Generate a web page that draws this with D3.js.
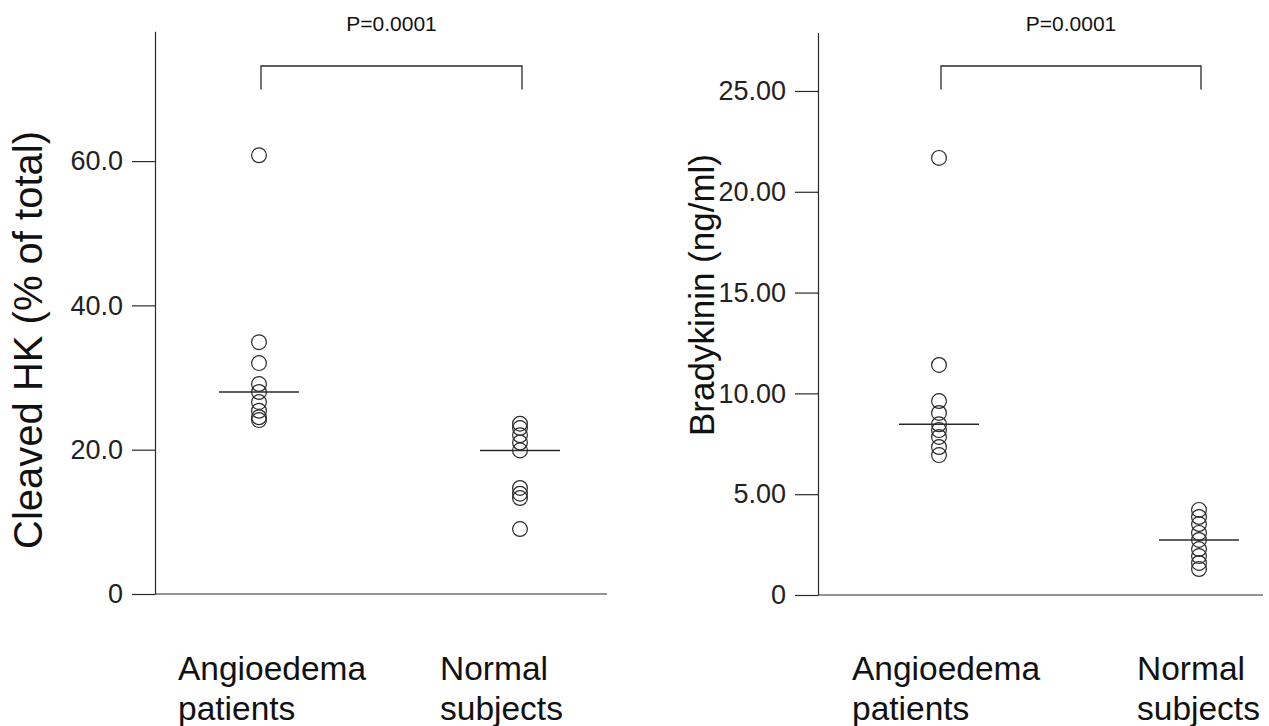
<!DOCTYPE html>
<html>
<head>
<meta charset="utf-8">
<script src="https://cdn.jsdelivr.net/npm/d3@7"></script>
<style>
  html, body { margin: 0; padding: 0; background: #fff; }
  svg { display: block; font-family: "Liberation Sans", Arial, sans-serif; }
</style>
</head>
<body>
<svg id="chart" width="1269" height="726"></svg>
<script>
// ---- data ----
const categories = ["Angioedema patients", "Normal subjects"];
const categoryLines = [["Angioedema", "patients"], ["Normal", "subjects"]];

const cleavedAngioedema = [60.8, 34.9, 32.0, 29.1, 28.0, 26.6, 25.4, 24.5, 24.1];
const cleavedNormal = [23.6, 23.0, 22.0, 21.0, 19.9, 14.7, 13.9, 13.3, 9.0];

const bradyAngioedema = [21.68, 11.41, 9.62, 9.03, 8.47, 8.18, 7.84, 7.34, 6.94];
const bradyNormal = [4.22, 3.87, 3.52, 3.08, 2.73, 2.28, 1.93, 1.59, 1.29];

const cleavedTicks = [0, 20, 40, 60];
const cleavedTickLabels = ["0", "20.0", "40.0", "60.0"];
const bradyTicks = [0, 5, 10, 15, 20, 25];
const bradyTickLabels = ["0", "5.00", "10.00", "15.00", "20.00", "25.00"];

const pLabels = ["P=0.0001", "P=0.0001"];
const yTitles = ["Cleaved HK (% of total)", "Bradykinin (ng/ml)"];

// ---- layout ----
const svg = d3.select("#chart");
const ink = "#2a2a2a";

const panels = [
  { series: [cleavedAngioedema, cleavedNormal], ticks: cleavedTicks, tickLabels: cleavedTickLabels,
    ymax: 78, axisX: 155, xEnd: 607, y0: 594, yTop: 31.2, cx: [259, 520],
    labelX: [178, 440], title: yTitles[0], titleX: 28, titleY: 340, titleSize: 40, p: pLabels[0] },
  { series: [bradyAngioedema, bradyNormal], ticks: bradyTicks, tickLabels: bradyTickLabels,
    ymax: 27.9, axisX: 818, xEnd: 1263, y0: 595, yTop: 32.5, cx: [939, 1199],
    labelX: [852, 1137], title: yTitles[1], titleX: 701, titleY: 295, titleSize: 35, p: pLabels[1] }
];

panels.forEach(P => {
  const g = svg.append("g");
  const y = d3.scaleLinear().domain([0, P.ymax]).range([P.y0, P.yTop]);
  const x = d3.scalePoint().domain(categories).range(P.cx);

  // y axis
  const yAxis = d3.axisLeft(y)
    .tickValues(P.ticks)
    .tickFormat((d, i) => P.tickLabels[i])
    .tickSize(23).tickSizeOuter(0).tickPadding(9);
  const ga = g.append("g").attr("transform", `translate(${P.axisX},0)`).call(yAxis);
  ga.select(".domain").attr("stroke", ink).attr("stroke-width", 1.2);
  ga.selectAll(".tick line").attr("stroke", ink).attr("stroke-width", 1.2);
  ga.selectAll(".tick text").attr("fill", "#222").style("font-size", "27px")
    .style("font-family", "'Liberation Sans', Arial, sans-serif");

  // x axis line
  const xAxisScale = d3.scaleLinear().range([P.axisX, P.xEnd]);
  g.append("line")
    .attr("x1", xAxisScale.range()[0]).attr("x2", xAxisScale.range()[1])
    .attr("y1", y(0)).attr("y2", y(0))
    .attr("stroke", ink).attr("stroke-width", 1.2);

  // y title
  g.append("text")
    .attr("transform", `translate(${P.titleX},${P.titleY}) rotate(-90)`)
    .attr("text-anchor", "middle")
    .attr("dominant-baseline", "central")
    .style("font-size", P.titleSize + "px")
    .attr("fill", "#111")
    .text(P.title);

  // points and medians
  categories.forEach((c, i) => {
    const vals = P.series[i];
    g.selectAll(null).data(vals).enter().append("circle")
      .attr("cx", x(c)).attr("cy", d => y(d)).attr("r", 7.4)
      .attr("fill", "none").attr("stroke", ink).attr("stroke-width", 1.2);
    const med = d3.median(vals);
    g.append("line")
      .attr("x1", x(c) - 40).attr("x2", x(c) + 40)
      .attr("y1", y(med)).attr("y2", y(med))
      .attr("stroke", ink).attr("stroke-width", 1.5);

    // category labels
    const t = g.append("text")
      .attr("x", P.labelX[i]).attr("y", 680)
      .style("font-size", "33.5px").attr("fill", "#111");
    categoryLines[i].forEach((ln, k) => {
      t.append("tspan").attr("x", P.labelX[i]).attr("dy", k === 0 ? 0 : 40).text(ln);
    });
  });

  // bracket
  const xa = x(categories[0]) + 2, xb = x(categories[1]) + 2;
  g.append("path")
    .attr("d", `M${xa},89.5 V66 H${xb} V89.5`)
    .attr("fill", "none").attr("stroke", ink).attr("stroke-width", 1.3);
  g.append("text")
    .attr("x", (xa + xb) / 2).attr("y", 31)
    .attr("text-anchor", "middle")
    .style("font-size", "21px").attr("fill", "#111")
    .text(P.p);
});
</script>
</body>
</html>
